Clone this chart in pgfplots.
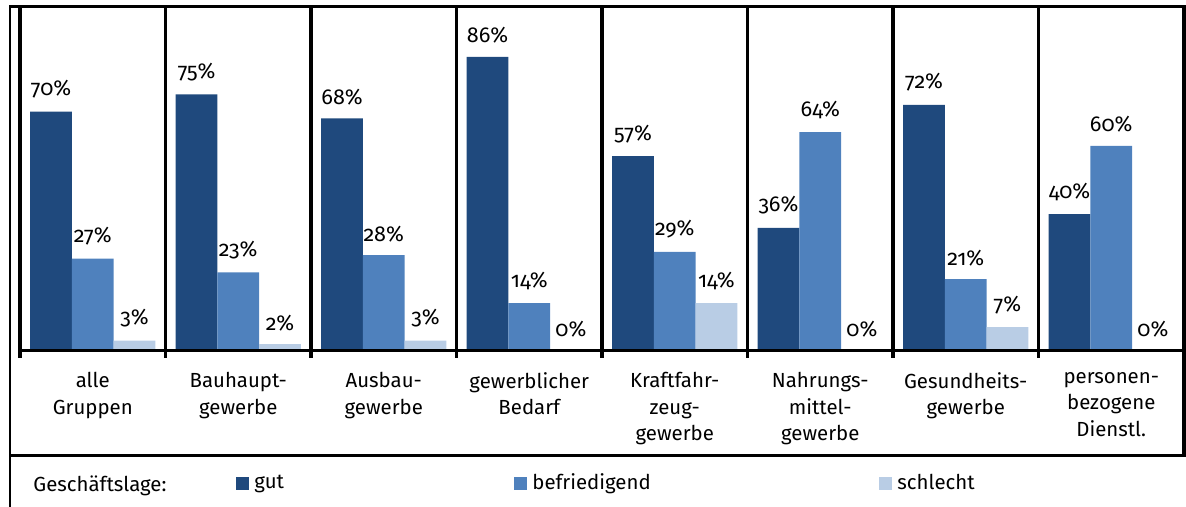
\documentclass[border=0pt]{standalone}
\usepackage{fontspec}
\setmainfont{Fira Sans}[Numbers=OldStyle]
\usepackage{pgfplots}
\pgfplotsset{compat=1.18}
\definecolor{cgut}{RGB}{31,73,125}
\definecolor{cbef}{RGB}{79,129,189}
\definecolor{cschl}{RGB}{185,205,229}
\begin{document}
\begin{tikzpicture}[font=\fontsize{10.2}{13.25}\selectfont]
\useasboundingbox (-10pt,-78pt) rectangle (583pt,175.5pt);
\begin{axis}[
  at={(0pt,0pt)}, anchor=south west,
  scale only axis, width=582pt, height=171pt,
  xmin=0, xmax=8, ymin=0, ymax=100,
  ybar, bar width=0.2866,
  axis line style={draw=none},
  ytick=\empty,
  xtick={0.5,1.5,2.5,3.5,4.5,5.5,6.5,7.5},
  xticklabels={{alle\\Gruppen},{Bauhaupt-\\gewerbe},{Ausbau-\\gewerbe},{gewerblicher\\Bedarf},{Kraftfahr-\\zeug-\\gewerbe},{Nahrungs-\\mittel-\\gewerbe},{Gesundheits-\\gewerbe},{personen-\\bezogene\\Dienstl.}},
  major tick length=0pt,
  xticklabel style={align=center, anchor=north, inner sep=0pt, yshift=-10.5pt, font=\fontsize{10.2}{13.25}\selectfont},
  nodes near coords={\pgfmathprintnumber[assume math mode=true]{\pgfplotspointmeta}\%},
  every node near coord/.append style={anchor=south, inner sep=0pt, yshift=6.5pt, text=black, font=\fontsize{10.8}{12}\selectfont},
  clip=false,
  legend style={at={(axis description cs:0,0)}, anchor=west, xshift=108pt, yshift=-66pt,
    draw=none, fill=none, inner sep=0pt, legend columns=3,
    nodes={inner sep=0.5pt}, font=\fontsize{10.2}{12}\selectfont},
]
\addplot[fill=cgut, draw=none, bar shift=-0.2866,
  legend image code/.code={\fill[cgut] (0pt,-3.25pt) rectangle (6.5pt,3.25pt);}]
  coordinates {(0.5,70) (1.5,75) (2.5,68) (3.5,86) (4.5,57) (5.5,36) (6.5,72) (7.5,40)};
\addplot[fill=cbef, draw=none, bar shift=0,
  legend image code/.code={\fill[cbef] (0pt,-3.25pt) rectangle (6.5pt,3.25pt);}]
  coordinates {(0.5,27) (1.5,23) (2.5,28) (3.5,14) (4.5,29) (5.5,64) (6.5,21) (7.5,60)};
\addplot[fill=cschl, draw=none, bar shift=0.2866,
  legend image code/.code={\fill[cschl] (0pt,-3.25pt) rectangle (6.5pt,3.25pt);}]
  coordinates {(0.5,3) (1.5,2) (2.5,3) (3.5,0) (4.5,14) (5.5,0) (6.5,7) (7.5,0)};
\legend{\makebox[131.5pt][l]{\hspace{2pt}gut},\makebox[175pt][l]{\hspace{2pt}befriedigend},\hspace{2pt}schlecht}
\end{axis}
% frame
\draw[line width=1.1pt] (-5pt,172pt) -- (-5pt,-80pt);
\draw[line width=1.5pt] (-5.5pt,172pt) -- (585pt,172pt);
\draw[line width=1.5pt] (-5.5pt,-52.5pt) -- (585pt,-52.5pt);
\draw[line width=1.5pt] (0pt,0pt) -- (582pt,0pt);
\foreach \i in {0,...,7} {
  \draw[line width=1.6pt] (\i*72.75pt,172pt) -- (\i*72.75pt,-3.5pt);
}
\draw[line width=1.6pt] (582pt,172pt) -- (582pt,-52.5pt);
\node[anchor=base west, inner sep=0pt] at (6.5pt,-70.5pt) {Geschäftslage:};
\end{tikzpicture}
\end{document}
